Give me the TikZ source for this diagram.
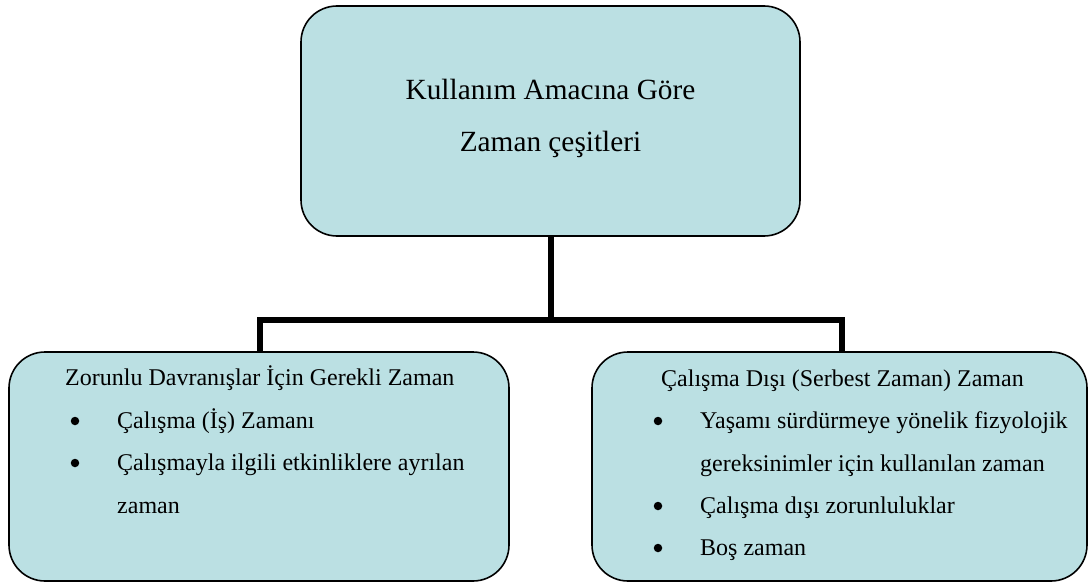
\documentclass[tikz,border=0pt]{standalone}
\usepackage{fontspec}
\setmainfont{Liberation Serif}
\definecolor{boxfill}{RGB}{187,224,227}
\tikzset{
  box/.style={draw=black, line width=1.6pt, fill=boxfill, rounded corners=36pt, inner sep=0pt},
  conn/.style={draw=black, line width=6pt, line join=miter},
  txt/.style={anchor=base west, inner sep=0pt, font=\fontsize{24}{28}\selectfont},
  toptxt/.style={anchor=base, inner sep=0pt, font=\fontsize{29.3}{34}\selectfont},
  bul/.style={circle, fill=black, inner sep=0pt, minimum size=8.5pt}
}
\begin{document}
\begin{tikzpicture}[x=1pt,y=-1pt]
\useasboundingbox (0,0) rectangle (1088,583);
% boxes
\node[box, minimum width=499pt, minimum height=230pt] (top) at (550.5,121) {};
\node[box, minimum width=500pt, minimum height=229pt] (left) at (259,466.5) {};
\node[box, minimum width=495pt, minimum height=229pt] (right) at (839.5,466.5) {};
% connectors
\coordinate (bus) at (550.5,319.5);
\coordinate (lj) at (259.5,352);
\coordinate (rj) at (842,352);
\draw[conn] (top.south) -- (bus);
\draw[conn] (lj) -- (lj |- bus) -- (rj |- bus) -- (rj);
% top text
\node[toptxt] (t1) at (550.5,100) {Kullanım Amacına Göre};
\node[toptxt] (t2) at (550.5,152) {Zaman çeşitleri};
% left text
\node[txt] (l0) at (65,385) {Zorunlu Davranışlar İçin Gerekli Zaman};
\node[bul] (lb1) at (75,421) {};
\node[txt] (l1) at (117,428) {Çalışma (İş) Zamanı};
\node[bul] (lb2) at (75,463) {};
\node[txt] (l2) at (117,470) {Çalışmayla ilgili etkinliklere ayrılan};
\node[txt] (l3) at (117,513) {zaman};
% right text
\node[txt] (r0) at (661,386) {Çalışma Dışı (Serbest Zaman) Zaman};
\node[bul] (rb1) at (658,421) {};
\node[txt] (r1) at (700,428) {Yaşamı sürdürmeye yönelik fizyolojik};
\node[txt] (r2) at (700,471) {gereksinimler için kullanılan zaman};
\node[bul] (rb2) at (658,506) {};
\node[txt] (r3) at (700,513) {Çalışma dışı zorunluluklar};
\node[bul] (rb3) at (658,548) {};
\node[txt] (r4) at (700,555) {Boş zaman};
\end{tikzpicture}
\end{document}
